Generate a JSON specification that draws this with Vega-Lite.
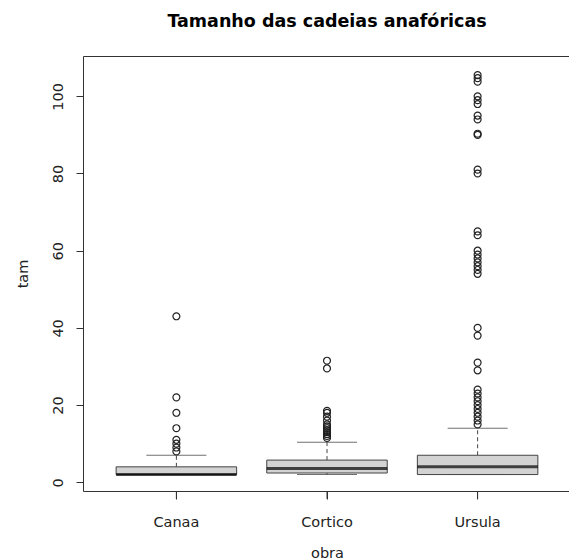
{
  "$schema": "https://vega.github.io/schema/vega-lite/v6.json",
  "autosize": {"type": "none"},
  "padding": {"left": 83, "top": 56, "right": -2, "bottom": 69},
  "width": 488,
  "height": 435,
  "background": "white",
  "title": {
    "text": "Tamanho das cadeias anafóricas",
    "font": "DejaVu Sans",
    "fontSize": 17.5,
    "fontWeight": "bold",
    "color": "#000000",
    "anchor": "middle",
    "frame": "group",
    "baseline": "alphabetic",
    "offset": 11.5
  },
  "config": {
    "view": {"stroke": "#333333", "strokeWidth": 1},
    "axis": {
      "grid": false,
      "domain": false,
      "labelFont": "DejaVu Sans",
      "titleFont": "DejaVu Sans",
      "labelFontSize": 14.5,
      "titleFontSize": 14.5,
      "titleFontWeight": "normal",
      "labelColor": "#222222",
      "titleColor": "#222222",
      "tickColor": "#333333",
      "tickSize": 7,
      "tickWidth": 1
    }
  },
  "datasets": {
    "stats": [
      {"obra": "Canaa", "lower": 2, "q1": 2, "median": 2, "q3": 4, "upper": 7},
      {"obra": "Cortico", "lower": 2, "q1": 2.4, "median": 3.6, "q3": 5.75, "upper": 10.4},
      {"obra": "Ursula", "lower": 2, "q1": 2, "median": 4, "q3": 7, "upper": 14}
    ],
    "outliers": [
      {"obra": "Canaa", "tam": 8},
      {"obra": "Canaa", "tam": 9},
      {"obra": "Canaa", "tam": 10},
      {"obra": "Canaa", "tam": 11},
      {"obra": "Canaa", "tam": 14},
      {"obra": "Canaa", "tam": 18},
      {"obra": "Canaa", "tam": 22},
      {"obra": "Canaa", "tam": 43},
      {"obra": "Cortico", "tam": 11.5},
      {"obra": "Cortico", "tam": 12},
      {"obra": "Cortico", "tam": 12.5},
      {"obra": "Cortico", "tam": 13},
      {"obra": "Cortico", "tam": 13.5},
      {"obra": "Cortico", "tam": 14},
      {"obra": "Cortico", "tam": 14.5},
      {"obra": "Cortico", "tam": 15},
      {"obra": "Cortico", "tam": 16},
      {"obra": "Cortico", "tam": 17},
      {"obra": "Cortico", "tam": 18},
      {"obra": "Cortico", "tam": 18.5},
      {"obra": "Cortico", "tam": 29.5},
      {"obra": "Cortico", "tam": 31.5},
      {"obra": "Ursula", "tam": 15},
      {"obra": "Ursula", "tam": 16},
      {"obra": "Ursula", "tam": 17},
      {"obra": "Ursula", "tam": 18},
      {"obra": "Ursula", "tam": 19},
      {"obra": "Ursula", "tam": 20},
      {"obra": "Ursula", "tam": 21},
      {"obra": "Ursula", "tam": 22},
      {"obra": "Ursula", "tam": 23},
      {"obra": "Ursula", "tam": 24},
      {"obra": "Ursula", "tam": 29},
      {"obra": "Ursula", "tam": 31},
      {"obra": "Ursula", "tam": 38},
      {"obra": "Ursula", "tam": 40},
      {"obra": "Ursula", "tam": 54},
      {"obra": "Ursula", "tam": 55},
      {"obra": "Ursula", "tam": 56},
      {"obra": "Ursula", "tam": 57},
      {"obra": "Ursula", "tam": 58},
      {"obra": "Ursula", "tam": 59},
      {"obra": "Ursula", "tam": 60},
      {"obra": "Ursula", "tam": 64},
      {"obra": "Ursula", "tam": 65},
      {"obra": "Ursula", "tam": 80},
      {"obra": "Ursula", "tam": 81},
      {"obra": "Ursula", "tam": 90},
      {"obra": "Ursula", "tam": 90.3},
      {"obra": "Ursula", "tam": 94},
      {"obra": "Ursula", "tam": 95},
      {"obra": "Ursula", "tam": 98},
      {"obra": "Ursula", "tam": 99},
      {"obra": "Ursula", "tam": 100},
      {"obra": "Ursula", "tam": 103.8},
      {"obra": "Ursula", "tam": 104.7},
      {"obra": "Ursula", "tam": 105.5}
    ]
  },
  "encoding": {
    "x": {
      "field": "obra",
      "type": "nominal",
      "scale": {"domain": ["Canaa", "Cortico", "Ursula"], "paddingInner": 0.2, "paddingOuter": 0.22},
      "axis": {
        "title": "obra",
        "labelAngle": 0,
        "labelPadding": 27,
        "labelBaseline": "alphabetic",
        "titleY": 66,
        "titleBaseline": "alphabetic",
        "ticks": true,
        "tickBand": "center",
        "tickSize": 8
      }
    }
  },
  "layer": [
    {
      "data": {"name": "stats"},
      "mark": {"type": "rule", "color": "#444444", "strokeWidth": 1, "strokeDash": [4, 3]},
      "encoding": {
        "y": {
          "field": "q3",
          "type": "quantitative",
          "scale": {"domain": [-2.26, 110.44], "nice": false, "zero": false},
          "axis": {
            "title": "tam",
            "values": [0, 20, 40, 60, 80, 100],
            "labelAngle": -90,
            "labelAlign": "center",
            "labelBaseline": "alphabetic",
            "labelPadding": 14,
            "titleAngle": -90,
            "titleX": -56,
            "titleY": 217.5,
            "titleAlign": "center",
            "titleBaseline": "alphabetic"
          }
        },
        "y2": {"field": "upper"}
      }
    },
    {
      "data": {"name": "stats"},
      "mark": {"type": "rule", "color": "#444444", "strokeWidth": 1, "strokeDash": [4, 3]},
      "encoding": {
        "y": {"field": "lower", "type": "quantitative"},
        "y2": {"field": "q1"}
      }
    },
    {
      "data": {"name": "stats"},
      "mark": {"type": "rule", "color": "#333333", "strokeWidth": 1, "clip": false},
      "encoding": {
        "y": {"datum": -2.26, "type": "quantitative"},
        "y2": {"datum": -4.3}
      }
    },
    {
      "data": {"name": "stats"},
      "mark": {"type": "tick", "color": "#333333", "size": 60, "thickness": 1},
      "encoding": {
        "y": {"field": "upper", "type": "quantitative"}
      }
    },
    {
      "data": {"name": "stats"},
      "mark": {"type": "tick", "color": "#333333", "size": 60, "thickness": 1},
      "encoding": {
        "y": {"field": "lower", "type": "quantitative"}
      }
    },
    {
      "data": {"name": "stats"},
      "mark": {"type": "bar", "fill": "#d3d3d3", "stroke": "#444444", "strokeWidth": 1},
      "encoding": {
        "y": {"field": "q1", "type": "quantitative"},
        "y2": {"field": "q3"}
      }
    },
    {
      "data": {"name": "stats"},
      "mark": {"type": "tick", "color": "#000000", "size": 120.5, "thickness": 3},
      "encoding": {
        "y": {"field": "median", "type": "quantitative"}
      }
    },
    {
      "data": {"name": "outliers"},
      "mark": {"type": "point", "shape": "circle", "filled": false, "stroke": "#222222", "strokeWidth": 1.2, "size": 48, "opacity": 1},
      "encoding": {
        "y": {"field": "tam", "type": "quantitative"}
      }
    }
  ]
}
